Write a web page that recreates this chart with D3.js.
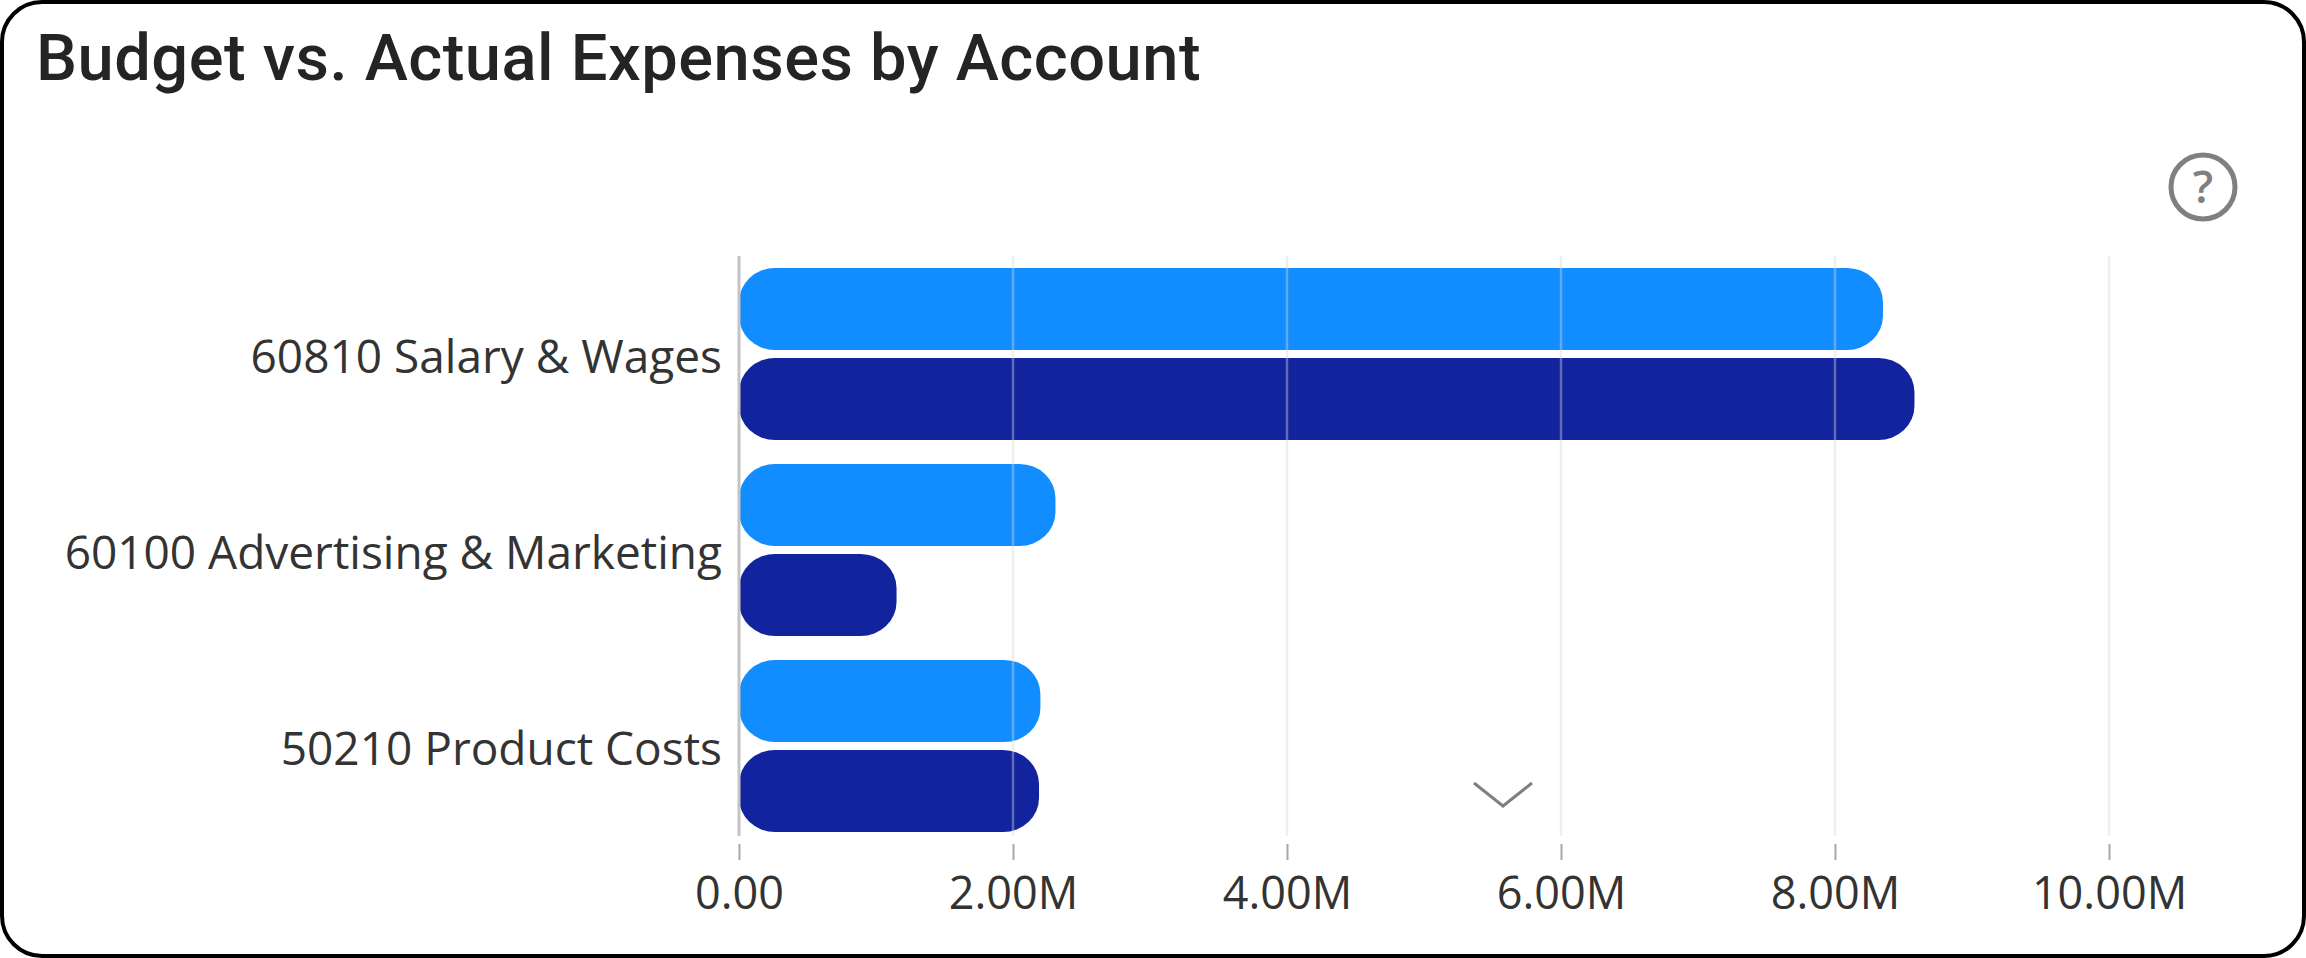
<!DOCTYPE html>
<html>
<head>
<meta charset="utf-8">
<title>Budget vs. Actual Expenses by Account</title>
<script src="https://cdn.jsdelivr.net/npm/d3@7"></script>
<style>
    body { margin: 0; background: #fff; }
    svg { display: block; }
</style>
</head>
<body>
<div id="svg-container"></div>
<script>
// values (in millions)
var categories = ["60810 Salary & Wages", "60100 Advertising & Marketing", "50210 Product Costs"];
var seriesNames = ["Budget", "Actual"];
var budgetValues = [8.35, 2.31, 2.2];
var actualValues = [8.58, 1.15, 2.19];
var tickValues = [0, 2, 4, 6, 8, 10];
var titleText = "Budget vs. Actual Expenses by Account";

var seriesColors = ["#118DFF", "#12239E"];

var svgWidth = 2306,
    svgHeight = 958;

var plotLeft = 739,
    plotRight = 2109,
    plotTop = 256,
    plotBottom = 844;

var svg = d3.select("#svg-container").append("svg")
    .attr("width", svgWidth)
    .attr("height", svgHeight);

// card outline
svg.append("rect")
    .attr("x", 2)
    .attr("y", 2)
    .attr("width", svgWidth - 4)
    .attr("height", svgHeight - 4)
    .attr("rx", 40)
    .attr("ry", 40)
    .attr("fill", "#fff")
    .attr("stroke", "#000")
    .attr("stroke-width", 4);

svg.append("text") // title
    .attr("x", 36)
    .attr("y", 80)
    .attr("font-family", "Roboto, sans-serif")
    .attr("font-weight", 500)
    .attr("font-size", 65)
    .attr("letter-spacing", 0.5)
    .attr("fill", "#252423")
    .text(titleText);

var x = d3.scaleLinear().domain([0, 10]).range([plotLeft, plotRight]);

var y0 = d3.scaleBand()
    .domain(categories)
    .range([plotTop, plotBottom])
    .paddingInner(24 / 196)
    .paddingOuter(12 / 196);

var y1 = d3.scaleBand()
    .domain(seriesNames)
    .range([0, y0.bandwidth()])
    .paddingInner(8 / 90);

var rows = categories.map(function(cat, i) {
    return {category: cat, values: [budgetValues[i], actualValues[i]]};
});

// bars
var barGroups = svg.selectAll(".group")
    .data(rows)
    .enter().append("g")
    .attr("class", "group")
    .attr("transform", function(d) { return "translate(0," + y0(d.category) + ")"; });

barGroups.selectAll("rect")
    .data(function(d) {
        return seriesNames.map(function(name, i) {
            return {name: name, value: d.values[i], color: seriesColors[i]};
        });
    })
    .enter().append("rect")
    .attr("x", x(0))
    .attr("y", function(d) { return y1(d.name); })
    .attr("width", function(d) { return x(d.value) - x(0); })
    .attr("height", y1.bandwidth())
    .attr("rx", 36)
    .attr("ry", 34)
    .attr("fill", function(d) { return d.color; });

// gridlines are on top of the bars in the original
svg.selectAll(".grid")
    .data(tickValues.slice(1))
    .enter().append("line")
    .attr("class", "grid")
    .attr("x1", function(d) { return x(d); })
    .attr("x2", function(d) { return x(d); })
    .attr("y1", plotTop)
    .attr("y2", plotBottom - 8)
    .attr("stroke", "#d8d8d8")
    .attr("stroke-opacity", 0.4)
    .attr("stroke-width", 2.5);

// zero line
svg.append("line")
    .attr("x1", x(0))
    .attr("x2", x(0))
    .attr("y1", plotTop)
    .attr("y2", plotBottom - 8)
    .attr("stroke", "#c4c4c4")
    .attr("stroke-width", 3);

// x axis
var xAxis = svg.append("g")
    .attr("class", "axis x-axis")
    .attr("transform", "translate(0," + plotBottom + ")")
    .call(d3.axisBottom(x)
        .tickValues(tickValues)
        .tickSize(16)
        .tickPadding(17)
        .tickFormat(function(d) { return d === 0 ? "0.00" : d.toFixed(2) + "M"; }));

xAxis.select(".domain").remove();
xAxis.selectAll("line").attr("stroke", "#a8a8a8").attr("stroke-width", 2);
xAxis.selectAll("text")
    .attr("font-family", "'Open Sans', sans-serif")
    .attr("font-size", 45)
    .attr("fill", "#333");

// y axis, only the labels
var yAxis = svg.append("g")
    .attr("class", "axis y-axis")
    .attr("transform", "translate(" + plotLeft + ",4)")
    .call(d3.axisLeft(y0).tickSize(0).tickPadding(17));

yAxis.select(".domain").remove();
yAxis.selectAll("text")
    .attr("font-family", "'Open Sans', sans-serif")
    .attr("font-size", 46)
    .attr("fill", "#333");

// help icon
var help = svg.append("g").attr("transform", "translate(2203,187)");
help.append("circle")
    .attr("r", 32)
    .attr("fill", "none")
    .attr("stroke", "#808080")
    .attr("stroke-width", 5);
help.append("text")
    .attr("y", 16)
    .attr("text-anchor", "middle")
    .attr("font-family", "'Open Sans', sans-serif")
    .attr("font-weight", 600)
    .attr("font-size", 45)
    .attr("fill", "#808080")
    .text("?");

// scroll chevron
svg.append("path")
    .attr("d", d3.line()([[1474, 783], [1503, 806], [1532, 783]]))
    .attr("fill", "none")
    .attr("stroke", "#808080")
    .attr("stroke-width", 3);
</script>
</body>
</html>
